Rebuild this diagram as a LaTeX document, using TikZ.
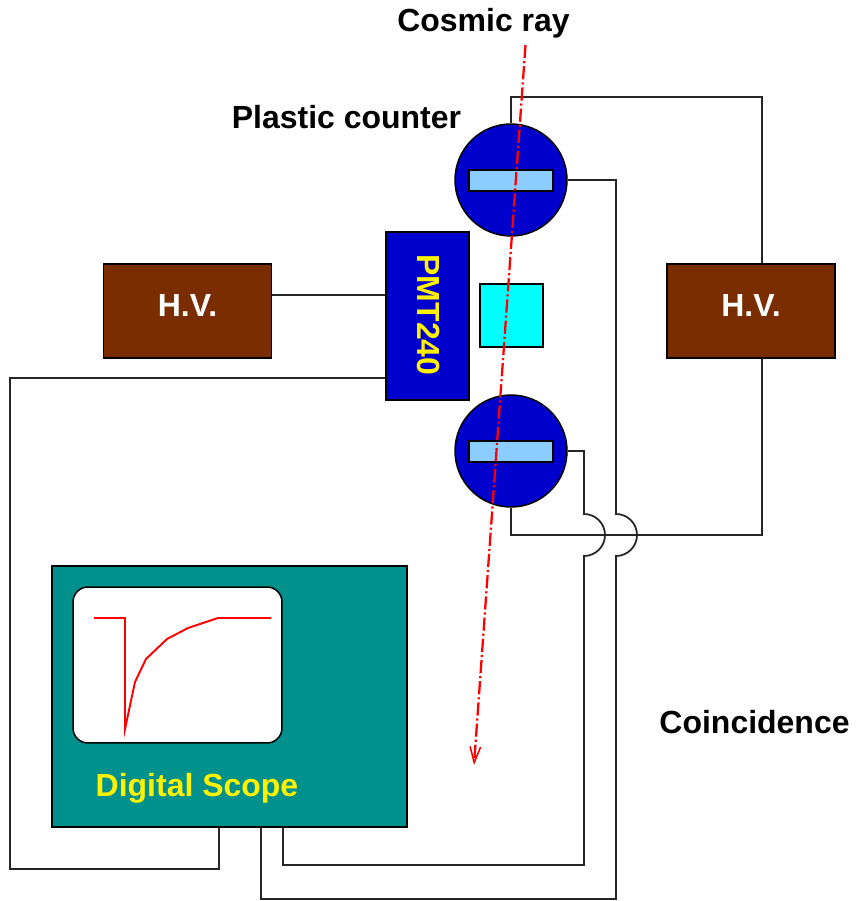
\documentclass[tikz,border=0pt]{standalone}
\usepackage{fontspec}
\setmainfont{Liberation Sans}
\usepackage{xcolor}
\usetikzlibrary{arrows, arrows.meta}
\definecolor{hvbrown}{RGB}{122,46,0}
\definecolor{pmtblue}{RGB}{0,0,204}
\definecolor{scopeteal}{RGB}{0,145,140}
\definecolor{barblue}{RGB}{140,205,255}
\definecolor{blockcyan}{RGB}{0,255,255}
\tikzset{
  wire/.style={draw=black!85, line width=1pt},
  outline/.style={rectangle, draw, line width=0.85pt, inner sep=0pt},
  hvbox/.style={outline, fill=hvbrown, minimum width=3.36cm, minimum height=1.88cm},
  counter/.style={circle, draw, line width=0.85pt, fill=pmtblue, inner sep=0pt, minimum size=2.24cm},
  bar/.style={outline, fill=barblue, minimum width=1.68cm, minimum height=0.42cm},
  caption/.style={font=\fontsize{18.2}{20}\selectfont\bfseries, inner sep=0pt},
}

\begin{document}
\begin{tikzpicture}[x=0.02cm, y=-0.02cm]
    \useasboundingbox (0,0) rectangle (858,901);

    \node[hvbox] (hvl) at (187.5,311) {};
    \node[hvbox] (hvr) at (751,311) {};
    \node[counter] (top) at (511,180) {};
    \node[counter] (bot) at (511,451) {};
    \node[outline, fill=pmtblue, minimum width=1.66cm, minimum height=3.36cm] (pmt) at (427.5,316) {};
    \node[outline, fill=scopeteal, minimum width=7.1cm, minimum height=5.22cm] (scope) at (229.5,696.5) {};

    \node[bar] (bartop) at (511,180.5) {};
    \node[bar] (barbot) at (511,451.5) {};
    \node[outline, fill=blockcyan, minimum size=1.26cm] (block) at (511.5,315.5) {};
    \node[outline, fill=white, rounded corners=0.3cm, minimum width=4.18cm, minimum height=3.12cm] (screen) at (177.5,665) {};

    \coordinate (hopa) at (584,514);
    \coordinate (hopb) at (616,514);
    \coordinate (corner) at (10,378);

    \draw[wire] (top.north) |- (762,97) -- (hvr.north -| 762,0);
    \draw[wire] (hvr.south -| 762,0) -- (762,535) -- (bot.south |- 762,535) -- (bot.south);
    \draw[wire] (top.east) -| (hopb) arc[start angle=90, end angle=-90, radius=0.42cm] -- (616,899) -- (261,899) -- (scope.south -| 261,0);
    \draw[wire] (bot.east) -| (hopa) arc[start angle=90, end angle=-90, radius=0.42cm] -- (584,865) -- (283,865) -- (scope.south -| 283,0);
    \draw[wire] (hvl.east |- 0,295) -- (pmt.west |- 0,295);
    \draw[wire] (pmt.west |- corner) -- (corner) -- (10,869) -- (219,869) -- (scope.south -| 219,0);

    \draw[red, line width=1.1pt] (94,618) -- (125,618) -- (125,729) -- (135,682) -- (146,659) -- (167,639) -- (188,628) -- (218,618) -- (271,618);

    \coordinate (raystart) at (525.5,45);
    \coordinate (rayend) at (474,765);
    \draw[red, line width=1.3pt, dash pattern=on 7.5pt off 1.7pt on 1.2pt off 1.7pt, -{Straight Barb[length=9pt, width=6pt, line width=0.9pt]}] (raystart) -- (rayend);

    \node[caption, text=white] (hvltext) at (187.5,306) {H.V.};
    \node[caption, text=white] (hvrtext) at (751,306) {H.V.};
    \node[caption, text=yellow, rotate=-90] (pmttext) at (428,315) {PMT240};
    \node[caption] (ray) at (483.5,23) {Cosmic ray};
    \node[caption] (plastic) at (346.5,117) {Plastic counter};
    \node[caption] (coin) at (754.5,722) {Coincidence};
    \node[caption, text=yellow] (dscope) at (197,788) {Digital Scope};
\end{tikzpicture}
\end{document}
